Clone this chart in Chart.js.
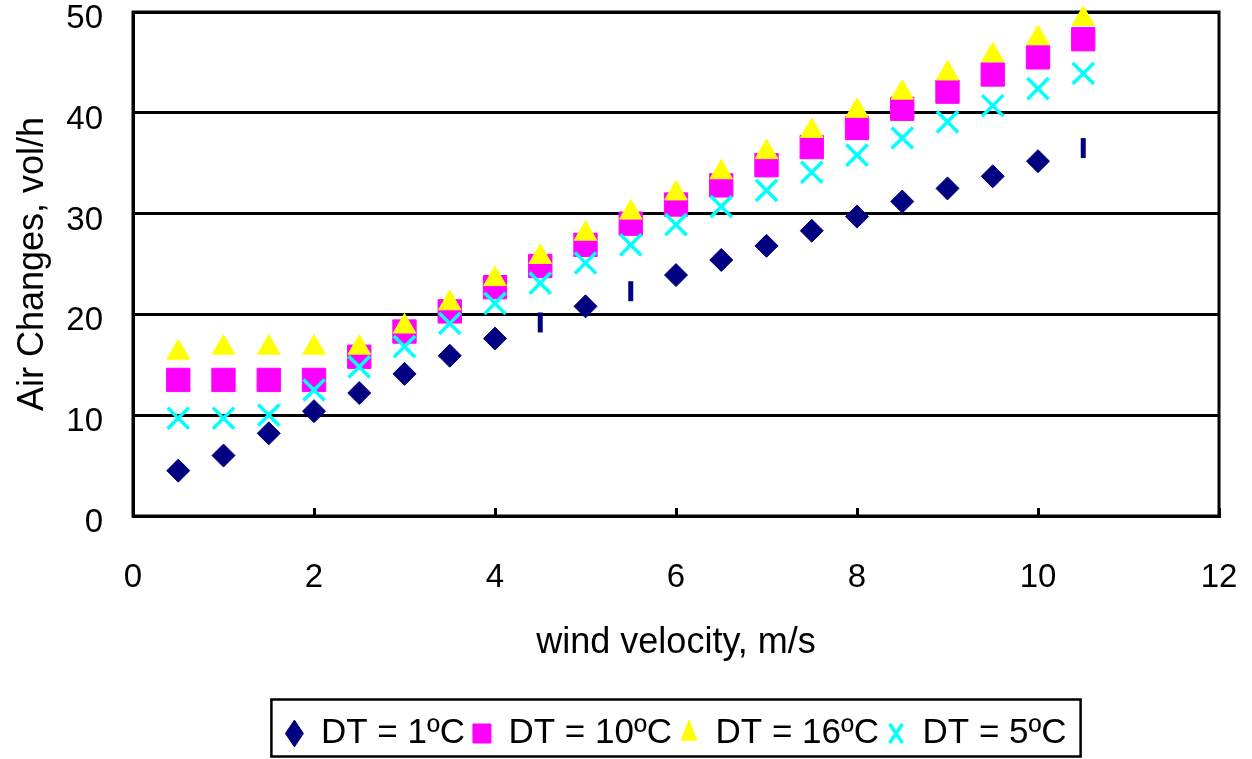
<!DOCTYPE html>
<html>
<head>
<meta charset="utf-8">
<script src="https://cdn.jsdelivr.net/npm/chart.js@4.4.1/dist/chart.umd.min.js"></script>
<style>
    html, body { margin: 0; padding: 0; background: #fff; }
    #wrap { width: 1252px; height: 759px; }
</style>
</head>
<body>
<div id="wrap"><canvas id="airChart"></canvas></div>
<script>
// Data
const velocity = [0.5, 1, 1.5, 2, 2.5, 3, 3.5, 4, 4.5, 5, 5.5, 6, 6.5, 7, 7.5, 8, 8.5, 9, 9.5, 10, 10.5];
const dt1 = [4.5, 6.0, 8.2, 10.4, 12.2, 14.1, 15.9, 17.6, 19.2, 20.8, 22.3, 23.9, 25.4, 26.8, 28.3, 29.7, 31.2, 32.5, 33.7, 35.2, 36.5];
const dt10 = [13.5, 13.5, 13.5, 13.5, 15.8, 18.3, 20.3, 22.7, 24.8, 26.9, 29.0, 30.9, 32.8, 34.8, 36.6, 38.5, 40.4, 42.1, 43.8, 45.5, 47.3];
const dt16 = [16.2, 16.7, 16.7, 16.7, 16.7, 18.8, 21.1, 23.5, 25.7, 28.0, 30.1, 32.0, 34.1, 36.1, 38.2, 40.2, 42.0, 43.9, 45.7, 47.4, 49.3];
const dt5 = [9.7, 9.7, 10.0, 12.5, 14.8, 16.8, 19.1, 21.1, 23.1, 25.1, 26.9, 28.9, 30.7, 32.3, 34.1, 35.8, 37.5, 39.1, 40.7, 42.4, 43.9];
const seriesLabels = ['DT = 1ºC', 'DT = 10ºC', 'DT = 16ºC', 'DT = 5ºC'];

// the 1ºC markers at these points show up as short vertical dashes
const dashIdx = [8, 10, 20];

const FONT = "'Liberation Sans', Arial, sans-serif";

const toPoints = (ys) => velocity.map((x, i) => ({ x: x, y: ys[i] }));

const framePlugin = {
    id: 'frame',
    afterLayout(chart) {
        // center the legend under the plot area, like the original
        const lg = chart.legend, a = chart.chartArea;
        if (!lg) return;
        lg.left = a.left;
        lg.right = a.right;
        lg.width = a.right - a.left;
    },
    beforeDatasetsDraw(chart) {
        const { ctx, chartArea: a } = chart;
        ctx.save();
        ctx.strokeStyle = '#000';
        ctx.lineWidth = 3;
        ctx.strokeRect(a.left, a.top, a.right - a.left, a.bottom - a.top);
        ctx.restore();
    },
    afterDraw(chart) {
        const boxes = chart.legend.legendHitBoxes;
        if (!boxes || !boxes.length) return;
        const l = Math.min(...boxes.map(b => b.left)) - 14;
        const r = Math.max(...boxes.map(b => b.left + b.width)) + 14;
        const cy = boxes[0].top + boxes[0].height / 2;
        const ctx = chart.ctx;
        ctx.save();
        ctx.strokeStyle = '#000';
        ctx.lineWidth = 2.5;
        ctx.strokeRect(l, cy - 34, r - l, 57);
        ctx.restore();
    }
};

const ctx = document.getElementById('airChart').getContext('2d');
new Chart(ctx, {
    type: 'scatter',
    data: {
        datasets: [
            {
                label: seriesLabels[0], data: toPoints(dt1), order: 4, clip: false,
                backgroundColor: '#000080', borderColor: '#000080',
                pointStyle: velocity.map((v, i) => dashIdx.includes(i) ? 'line' : 'rectRot'),
                rotation: velocity.map((v, i) => dashIdx.includes(i) ? 90 : 0),
                pointRadius: velocity.map((v, i) => dashIdx.includes(i) ? 10 : 11.5),
                pointBorderWidth: velocity.map((v, i) => dashIdx.includes(i) ? 5 : 1)
            },
            {
                label: seriesLabels[1], data: toPoints(dt10), order: 3, clip: false,
                backgroundColor: '#ff00ff', borderColor: '#ff00ff',
                pointStyle: 'rect', pointRadius: 16.5, pointBorderWidth: 1
            },
            {
                label: seriesLabels[2], data: toPoints(dt16), order: 2, clip: false,
                backgroundColor: '#ffff00', borderColor: '#ffff00',
                pointStyle: 'triangle', pointRadius: 13, pointBorderWidth: 1
            },
            {
                label: seriesLabels[3], data: toPoints(dt5), order: 1, clip: false,
                backgroundColor: '#00ffff', borderColor: '#00ffff',
                pointStyle: 'crossRot', pointRadius: 15, pointBorderWidth: 3.5
            }
        ]
    },
    options: {
        responsive: true,
        maintainAspectRatio: false,
        animation: false,
        layout: { autoPadding: false, padding: { top: 12, right: 33, left: 0, bottom: -2 } },
        scales: {
            x: {
                type: 'linear', min: 0, max: 12,
                ticks: { stepSize: 2, color: '#000', font: { family: FONT, size: 33 }, padding: 50 },
                grid: { display: true, drawOnChartArea: false, drawTicks: true, tickLength: -8, color: '#000', lineWidth: 3 },
                border: { display: true, color: '#000', width: 3 },
                title: { display: true, text: 'wind velocity, m/s', color: '#000', font: { family: FONT, size: 36 }, padding: { top: 0, bottom: 43 } },
                afterFit: (s) => { s.height = 192; s.paddingLeft = 0; s.paddingRight = 0; }
            },
            y: {
                min: 0, max: 50,
                ticks: { stepSize: 10, color: '#000', font: { family: FONT, size: 33 }, padding: 30, labelOffset: 7 },
                grid: { color: '#000', lineWidth: 3, drawTicks: false },
                border: { display: true, color: '#000', width: 3 },
                title: { display: true, text: 'Air Changes, vol/h', color: '#000', font: { family: FONT, size: 36 }, padding: { top: 11, bottom: 0 } },
                afterFit: (s) => { s.width = 133; s.paddingTop = 0; s.paddingBottom = 0; }
            }
        },
        plugins: {
            tooltip: { enabled: false },
            legend: {
                position: 'bottom',
                reverse: true,
                labels: {
                    usePointStyle: true, pointStyleWidth: 18, boxHeight: 19,
                    color: '#000', font: { family: FONT, size: 35 }, padding: 8
                }
            }
        }
    },
    plugins: [framePlugin]
});
</script>
</body>
</html>
